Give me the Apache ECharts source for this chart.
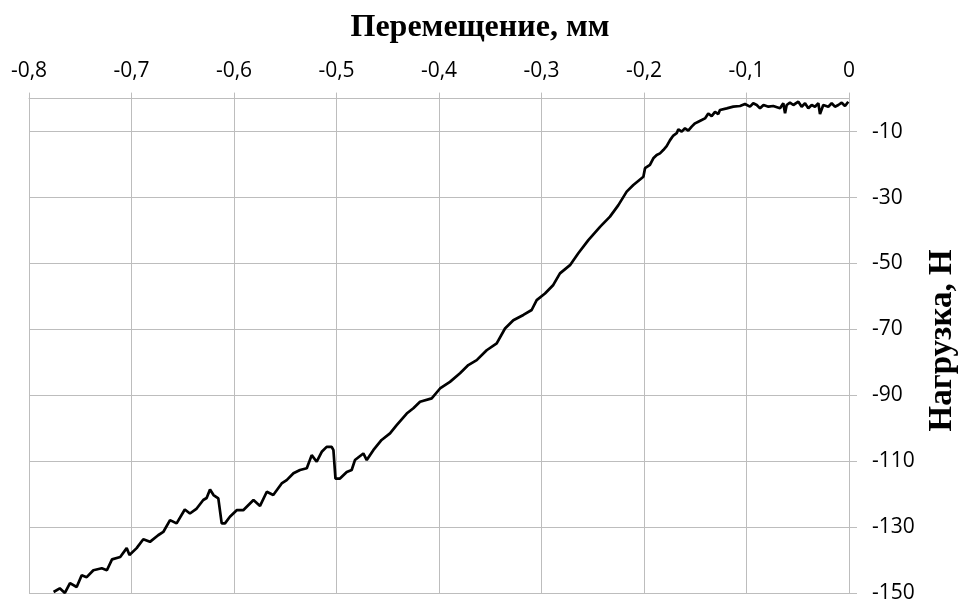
<!DOCTYPE html>
<html>
<head>
<meta charset="utf-8">
<script src="https://cdn.jsdelivr.net/npm/echarts@6/dist/echarts.min.js"></script>
<style>html,body{margin:0;padding:0;background:#fff}#c{width:960px;height:604px}</style>
</head>
<body>
<div id="c"></div>
<script>
// Displacement, mm
const displacement = [
-0.776,-0.770,-0.765,-0.760,-0.7535,-0.7486,-0.7437,-0.7372,-0.729,-0.724,
-0.719,-0.711,-0.7047,-0.702,-0.695,-0.6885,-0.682,-0.674,-0.669,-0.6624,
-0.656,-0.648,-0.643,-0.6364,-0.63,-0.6267,-0.6234,-0.620,-0.6153,-0.612,
-0.6088,-0.604,-0.5974,-0.591,-0.581,-0.5746,-0.568,-0.5617,-0.5535,-0.5486,
-0.542,-0.5356,-0.529,-0.5242,-0.5193,-0.5144,-0.5096,-0.5047,-0.503,-0.501,
-0.4966,-0.49,-0.4852,-0.482,-0.4738,-0.4705,-0.4641,-0.456,-0.4478,-0.4413,
-0.4315,-0.425,-0.4185,-0.4071,-0.399,-0.3893,-0.3795,-0.3714,-0.3632,-0.3535,
-0.3437,-0.3356,-0.3275,-0.3177,-0.3096,-0.3047,-0.2966,-0.2885,-0.282,-0.2722,
-0.2641,-0.2543,-0.2429,-0.2332,-0.225,-0.2169,-0.2104,-0.2006,-0.199,-0.1942,
-0.1909,-0.1876,-0.1844,-0.1812,-0.1779,-0.1746,-0.1714,-0.1681,-0.1665,-0.1632,
-0.160,-0.1568,-0.1535,-0.1502,-0.147,-0.1437,-0.1405,-0.1373,-0.134,-0.1307,
-0.1275,-0.1259,-0.1193,-0.1129,-0.1063,-0.1015,-0.0966,-0.0934,-0.0900,-0.0868,
-0.0834,-0.0786,-0.0739,-0.0673,-0.0641,-0.0624,-0.0608,-0.0576,-0.0543,-0.0494,
-0.0462,-0.0429,-0.0397,-0.0364,-0.0332,-0.0299,-0.0283,-0.0251,-0.0202,-0.0169,
-0.0137,-0.0104,-0.0071,-0.0039,-0.0007
];
// Load, N
const load = [
-149.6,-148.5,-149.9,-146.9,-148.1,-144.5,-145.1,-143,-142.4,-143,
-139.7,-139,-136.3,-138.4,-136.3,-133.6,-134.4,-132.4,-131.4,-127.8,
-128.8,-124.6,-125.8,-124.3,-121.7,-121.1,-118.5,-120.2,-121.2,-128.8,
-128.8,-126.8,-124.8,-124.8,-121.7,-123.5,-119.2,-120.2,-116.7,-115.7,
-113.6,-112.6,-112.1,-108.1,-110.1,-107.1,-105.6,-105.6,-106.6,-115.2,
-115.2,-113.2,-112.6,-109.6,-107.6,-109.6,-106.6,-103.5,-101.5,-99,
-95.5,-93.9,-91.9,-90.9,-87.9,-85.9,-83.3,-80.8,-79.3,-76.3,
-74.2,-69.7,-67.2,-65.6,-64.1,-61.1,-59.1,-56.5,-53,-50.5,
-46.9,-42.9,-38.9,-35.8,-32.3,-28.2,-26.2,-23.7,-21.1,-20.1,
-18.1,-17.1,-16.6,-15.6,-14.4,-12.6,-11.2,-10.5,-9.3,-10.0,
-9.0,-9.7,-8.5,-7.5,-7.0,-6.5,-6.0,-4.5,-5.3,-4.0,
-4.7,-3.46,-2.95,-2.45,-2.24,-1.64,-2.45,-1.43,-1.94,-2.95,
-1.94,-2.45,-2.24,-2.95,-1.43,-4.46,-1.94,-1.24,-1.94,-0.94,
-2.45,-1.43,-2.95,-1.94,-2.45,-1.43,-4.67,-1.94,-2.45,-1.43,
-2.45,-1.94,-1.24,-2.24,-0.94
];
const yTicks = [-150,-130,-110,-90,-70,-50,-30,-10];

const gridColor = '#bdbdbd';
const chart = echarts.init(document.getElementById('c'));
chart.setOption({
  animation: false,
  title: {
    text: 'Перемещение, мм',
    left: 'center',
    top: 7,
    textStyle: {fontFamily: 'Liberation Serif', fontWeight: 'bold', fontSize: 32, color: '#000'}
  },
  grid: {left: 29, right: 111, top: 98.6, bottom: 10.7, outerBoundsMode: 'none', containLabel: false},
  xAxis: {
    type: 'value', position: 'top',
    min: -0.8, max: 0, interval: 0.1,
    axisLine: {show: true, lineStyle: {color: gridColor, width: 1}},
    axisTick: {show: true, length: 6, lineStyle: {color: gridColor}},
    splitLine: {show: true, lineStyle: {color: gridColor, width: 1}},
    axisLabel: {
      margin: 17, color: '#000', fontFamily: 'Open Sans', fontSize: 21,
      formatter: v => Math.abs(v) < 1e-9 ? '0' : v.toFixed(1).replace('.', ',')
    }
  },
  yAxis: {
    type: 'value', position: 'right',
    min: -150, max: 0, interval: 20,
    name: 'Нагрузка, Н', nameLocation: 'middle', nameRotate: 90, nameGap: 77,
    nameTextStyle: {fontFamily: 'Liberation Serif', fontWeight: 'bold', fontSize: 33, color: '#000', padding: [0, 0, 0, 11]},
    axisLine: {show: true, lineStyle: {color: gridColor, width: 1}},
    axisTick: {show: true, length: 8, lineStyle: {color: gridColor}, customValues: yTicks},
    splitLine: {show: true, lineStyle: {color: gridColor, width: 1}},
    axisLabel: {
      margin: 23, color: '#000', fontFamily: 'Open Sans', fontSize: 21,
      customValues: yTicks,
      formatter: v => String(v)
    }
  },
  series: [{
    type: 'line',
    data: displacement.map((x, i) => [x, load[i]]),
    showSymbol: false,
    lineStyle: {color: '#000', width: 2.7},
    z: 5
  }]
});
</script>
</body>
</html>
